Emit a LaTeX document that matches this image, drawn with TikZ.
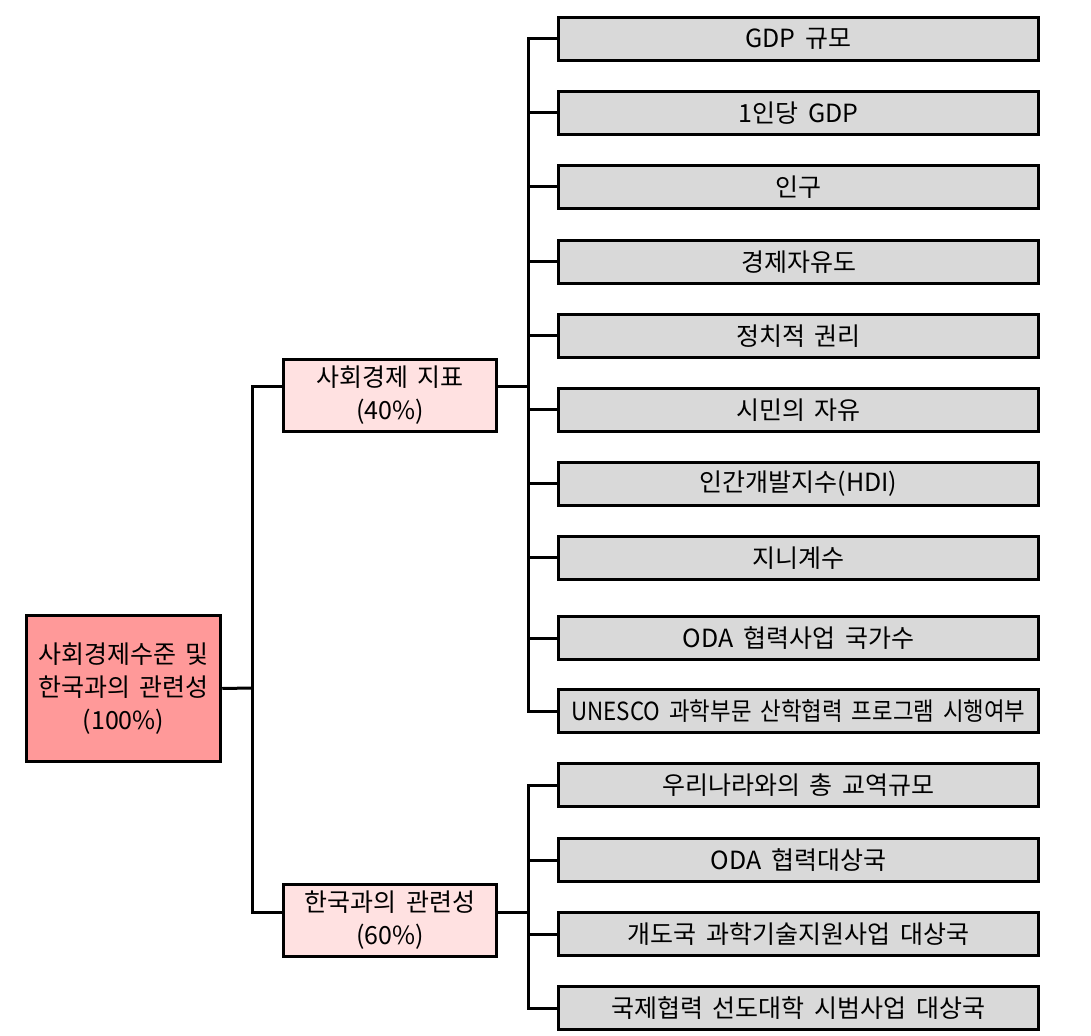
\documentclass[tikz,border=0pt]{standalone}
\usepackage{fontspec}
\setmainfont{Noto Sans CJK KR}
\usetikzlibrary{positioning}

\definecolor{rootred}{HTML}{FF9999}
\definecolor{midpink}{HTML}{FFE1E1}
\definecolor{leafgray}{HTML}{D9D9D9}

\newcommand{\boxfont}{\fontsize{12.5}{16.5}\selectfont\spaceskip=0.4em plus 0.1em\relax}

\begin{document}
\begin{tikzpicture}[x=0.5pt, y=-0.5pt,
    every node/.style={font=\boxfont, align=center, inner sep=0pt},
    rootbox/.style={draw, line width=1.75pt, fill=rootred, minimum width=97pt, minimum height=73pt},
    midbox/.style={draw, line width=1.75pt, fill=midpink, minimum width=106.5pt, minimum height=36pt},
    leafbox/.style={draw, line width=1.75pt, fill=leafgray, minimum width=240pt, minimum height=21.5pt},
    conn/.style={line width=1.5pt}]

    \useasboundingbox (0,0) rectangle (1091,1036);

        \node (root) [rootbox] at (123.5,688.5) {사회경제수준 및\\한국과의 관련성\\(100\%)};
        \node (m1) [midbox] at (390,395.5) {사회경제 지표\\(40\%)};
        \node (m2) [midbox] at (390,920.5) {한국과의 관련성\\(60\%)};

        \node (l1) [leafbox] at (798.5,39) {GDP 규모};
        \node (l2) [leafbox] at (798.5,113) {1인당 GDP};
        \node (l3) [leafbox] at (798.5,187) {인구};
        \node (l4) [leafbox] at (798.5,262) {경제자유도};
        \node (l5) [leafbox] at (798.5,336) {정치적 권리};
        \node (l6) [leafbox] at (798.5,410) {시민의 자유};
        \node (l7) [leafbox] at (798.5,484) {인간개발지수(HDI)};
        \node (l8) [leafbox] at (798.5,558) {지니계수};
        \node (l9) [leafbox] at (798.5,638) {ODA 협력사업 국가수};
        \node (l10) [leafbox] at (798.5,711) {\resizebox{227pt}{\height}{UNESCO 과학부문 산학협력 프로그램 시행여부}};

        \node (l11) [leafbox] at (798.5,785) {우리나라와의 총 교역규모};
        \node (l12) [leafbox] at (798.5,860) {ODA 협력대상국};
        \node (l13) [leafbox] at (798.5,934) {개도국 과학기술지원사업 대상국};
        \node (l14) [leafbox] at (798.5,1008) {국제협력 선도대학 시범사업 대상국};

    % junctions
    \coordinate (rj) at (252,688);
    \coordinate (j1) at (528,387);
    \coordinate (j2) at (528,912);

    \draw [conn] (root.east) -- (rj);
    \draw [conn] ([yshift=4.25pt]m1.west) -| (rj) |- ([yshift=4.25pt]m2.west);

    \draw [conn] ([yshift=4.25pt]m1.east) -- (j1);
    \draw [conn] (l1.west) -| (j1) |- (l10.west);
    \foreach \i in {2,...,9}
        \draw [conn] (j1 |- l\i.west) -- (l\i.west);

    \draw [conn] ([yshift=4.25pt]m2.east) -- (j2);
    \draw [conn] (l11.west) -| (j2) |- (l14.west);
    \foreach \i in {12,13}
        \draw [conn] (j2 |- l\i.west) -- (l\i.west);

\end{tikzpicture}
\end{document}
